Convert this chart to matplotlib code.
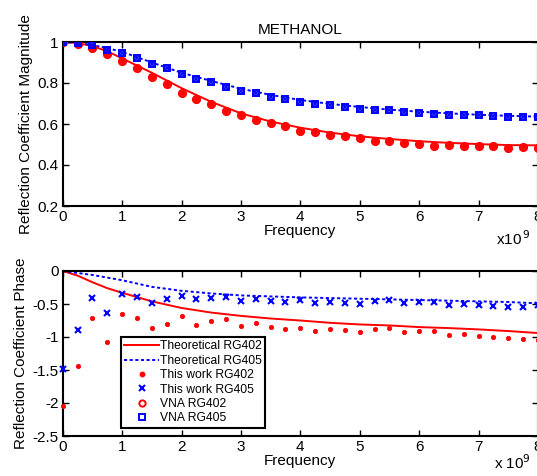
import matplotlib
matplotlib.use("Agg")
import matplotlib.pyplot as plt
from matplotlib.lines import Line2D
import numpy as np

plt.rcParams['font.family'] = ['Liberation Sans', 'DejaVu Sans']

# ---------------- data (frequency in units of 1e9 Hz) ----------------
freq_meas = [0, 0.25, 0.5, 0.75, 1.0, 1.25, 1.5, 1.75, 2.0, 2.25, 2.5, 2.75, 3.0,
             3.25, 3.5, 3.75, 4.0, 4.25, 4.5, 4.75, 5.0, 5.25, 5.5, 5.75, 6.0,
             6.25, 6.5, 6.75, 7.0, 7.25, 7.5, 7.75, 8.0]
freq_theo = [0, 0.25, 0.5, 0.75, 1.0, 1.5, 2.0, 2.5, 3.0, 3.5, 4.0, 4.5, 5.0,
             5.5, 6.0, 6.5, 7.0, 7.5, 8.0]

# Magnitude
mag_theo_402 = [1.0, 0.995, 0.98, 0.955, 0.92, 0.85, 0.775, 0.708, 0.652, 0.612,
                0.582, 0.558, 0.54, 0.527, 0.516, 0.508, 0.502, 0.497, 0.496]
mag_theo_405 = [1.0, 0.996, 0.985, 0.97, 0.952, 0.90, 0.85, 0.81, 0.772, 0.742,
                0.717, 0.698, 0.683, 0.67, 0.66, 0.652, 0.645, 0.64, 0.636]
mag_402 = [1.0, 0.99, 0.97, 0.942, 0.906, 0.871, 0.827, 0.795, 0.751, 0.722, 0.698,
           0.662, 0.643, 0.62, 0.604, 0.591, 0.567, 0.562, 0.548, 0.54, 0.531,
           0.519, 0.515, 0.507, 0.502, 0.494, 0.499, 0.491, 0.494, 0.491, 0.483,
           0.486, 0.483]
mag_405 = [1.0, 0.995, 0.984, 0.963, 0.947, 0.922, 0.893, 0.871, 0.845, 0.819,
           0.805, 0.782, 0.763, 0.75, 0.733, 0.721, 0.706, 0.698, 0.691, 0.685,
           0.675, 0.67, 0.666, 0.657, 0.654, 0.651, 0.646, 0.643, 0.643, 0.64,
           0.632, 0.633, 0.632]
mag_vna_402 = mag_402
mag_vna_405 = mag_405

# Phase
ph_theo_402 = [0, -0.07, -0.17, -0.26, -0.33, -0.46, -0.56, -0.63, -0.68, -0.72,
               -0.75, -0.785, -0.81, -0.825, -0.85, -0.865, -0.885, -0.91, -0.94]
ph_theo_405 = [0, -0.03, -0.06, -0.10, -0.14, -0.24, -0.30, -0.34, -0.37, -0.385,
               -0.40, -0.41, -0.42, -0.43, -0.44, -0.45, -0.46, -0.47, -0.49]
ph_402 = [-2.05, -1.44, -0.717, -1.076, -0.652, -0.717, -0.87, -0.80, -0.68,
          -0.82, -0.76, -0.73, -0.84, -0.79, -0.853, -0.88, -0.864, -0.904,
          -0.88, -0.90, -0.93, -0.88, -0.86, -0.93, -0.905, -0.905, -0.97,
          -0.955, -0.98, -0.995, -1.02, -1.03, -1.04]
ph_405 = [-1.48, -0.894, -0.404, -0.63, -0.353, -0.40, -0.49, -0.43, -0.38,
          -0.43, -0.415, -0.39, -0.45, -0.43, -0.46, -0.475, -0.44, -0.48,
          -0.475, -0.48, -0.50, -0.46, -0.44, -0.49, -0.475, -0.475, -0.515,
          -0.50, -0.515, -0.53, -0.54, -0.54, -0.52]

xticks = [0, 1, 2, 3, 4, 5, 6, 7, 8]
mag_ticks = [0.2, 0.4, 0.6, 0.8, 1.0]
mag_ticklabels = ['0.2', '0.4', '0.6', '0.8', '1']
ph_ticks = [-2.5, -2, -1.5, -1, -0.5, 0]
ph_ticklabels = ['-2.5', '-2', '-1.5', '-1', '-0.5', '0']

RED = '#ff0000'
BLUE = '#0000ff'
DOT = (0, (1.6, 1.3))
FS = 11

W, H = 537, 476
fig = plt.figure(figsize=(W / 100, H / 100), dpi=100)

def px_axes(x0, y0, x1, y1):
    return fig.add_axes([x0 / W, 1 - y1 / H, (x1 - x0) / W, (y1 - y0) / H])

def style(ax):
    for s in ax.spines.values():
        s.set_linewidth(1.5)
    ax.tick_params(direction='in', length=4, width=1, top=True, right=True,
                   labelsize=FS, pad=3)
    ax.set_xlim(0, 8)
    ax.set_xticks(xticks)
    ax.set_xticklabels([str(t) for t in xticks])

# ---------------- top: magnitude ----------------
ax1 = px_axes(62.7, 42, 538, 206)
ax1.plot(freq_theo, mag_theo_402, color=RED, lw=1.4, zorder=2)
ax1.plot(freq_theo, mag_theo_405, color=BLUE, lw=1.4, ls=DOT, zorder=2)
ax1.plot(freq_meas, mag_vna_402, ls='none', marker='o', ms=5.2, mfc='none',
         mec=RED, mew=1.4, zorder=3)
ax1.plot(freq_meas, mag_402, ls='none', marker='o', ms=3.8, mfc=RED,
         mec=RED, mew=0.5, zorder=3)
ax1.plot(freq_meas, mag_vna_405, ls='none', marker='s', ms=5, mfc='none',
         mec=BLUE, mew=1.4, zorder=3)
ax1.plot(freq_meas, mag_405, ls='none', marker='x', ms=3.5, mec=BLUE,
         mew=1.3, zorder=3)
style(ax1)
ax1.set_ylim(0.2, 1.0)
ax1.set_yticks(mag_ticks)
ax1.set_yticklabels(mag_ticklabels)
ax1.set_title('METHANOL', fontsize=FS, pad=6)
ax1.set_xlabel('Frequency', fontsize=FS, labelpad=0)
ax1.set_ylabel('Reflection Coefficient Magnitude', fontsize=FS, labelpad=3)
ax1.text(0.985, -0.2, 'x10$^{\\,9}$', transform=ax1.transAxes, fontsize=FS,
         ha='right', va='center')

# ---------------- bottom: phase ----------------
ax2 = px_axes(62.7, 271, 538, 436)
ax2.plot(freq_theo, ph_theo_402, color=RED, lw=1.4, zorder=2)
ax2.plot(freq_theo, ph_theo_405, color=BLUE, lw=1.4, ls=DOT, zorder=2)
ax2.plot(freq_meas, ph_402, ls='none', marker='o', ms=3.2, mfc=RED, mec=RED,
         mew=0.5, zorder=3, clip_on=False)
ax2.plot(freq_meas, ph_405, ls='none', marker='x', ms=4, mec=BLUE,
         mew=1.5, zorder=3, clip_on=False)
style(ax2)
ax2.set_ylim(-2.5, 0)
ax2.set_yticks(ph_ticks)
ax2.set_yticklabels(ph_ticklabels)
ax2.set_xlabel('Frequency', fontsize=FS, labelpad=0)
ax2.set_ylabel('Reflection Coefficient Phase', fontsize=FS, labelpad=3)
ax2.text(0.985, -0.16, 'x 10$^{9}$', transform=ax2.transAxes, fontsize=FS,
         ha='right', va='center')

handles = [
    Line2D([], [], color=RED, lw=1.4),
    Line2D([], [], color=BLUE, lw=1.4, ls=DOT),
    Line2D([], [], ls='none', marker='o', ms=3.2, mfc=RED, mec=RED),
    Line2D([], [], ls='none', marker='x', ms=4, mec=BLUE, mew=1.5),
    Line2D([], [], ls='none', marker='o', ms=4.5, mfc='none', mec=RED, mew=1.4),
    Line2D([], [], ls='none', marker='s', ms=4.5, mfc='none', mec=BLUE, mew=1.4),
]
labels = ['Theoretical RG402', 'Theoretical RG405', 'This work RG402',
          'This work RG405', 'VNA RG402', 'VNA RG405']
leg = ax2.legend(handles, labels, loc='lower left',
                 bbox_to_anchor=(0.122, 0.048), fontsize=8.7, frameon=True,
                 fancybox=False, framealpha=1, edgecolor='black',
                 handlelength=2.9, handletextpad=0.05, labelspacing=0.2,
                 borderpad=0.3, borderaxespad=0)
leg.get_frame().set_linewidth(1.5)

fig.savefig('out.png', dpi=100)
